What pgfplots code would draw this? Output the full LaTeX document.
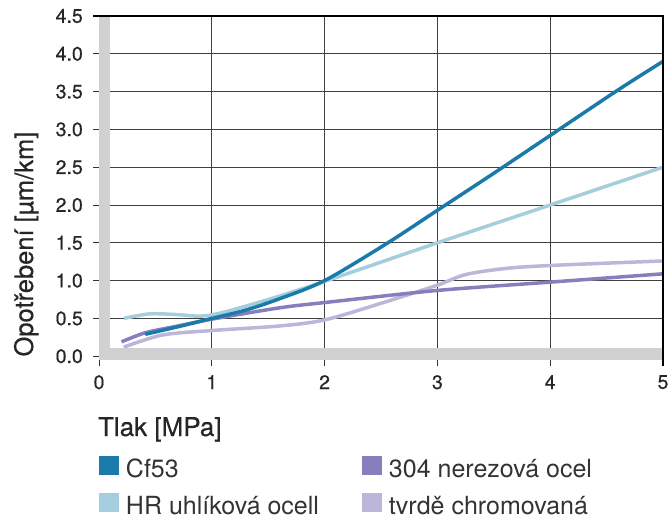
\documentclass[border=0pt]{standalone}
\usepackage{fontspec}
\setmainfont{TeX Gyre Heros}
\newfontfamily\medfont{TeX Gyre Heros}[FakeBold=0.5]
\usepackage{pgfplots}
\pgfplotsset{compat=1.18}
\definecolor{cf}{RGB}{26,122,170}
\definecolor{hr}{RGB}{164,206,222}
\definecolor{ss}{RGB}{134,127,190}
\definecolor{tc}{RGB}{188,182,218}
\definecolor{band}{RGB}{208,209,211}
\begin{document}
\begin{tikzpicture}
\begin{axis}[name=ax, scale only axis, width=564bp, height=344bp,
 xmin=0, xmax=5, ymin=-0.05, ymax=4.5,
 xtick={0,1,2,3,4,5}, ytick={0,0.5,1,1.5,2,2.5,3,3.5,4,4.5},
 grid=major, major grid style={draw=black!75, line width=0.8bp},
 axis line style={draw=none},
 tick align=outside, major tick length=6bp, tick style={black!80, line width=0.8bp},
 xtick pos=left, ytick pos=left,
 /pgf/number format/assume math mode=true,
 ticklabel style={font=\medfont\fontsize{19.5bp}{22bp}\selectfont, text=black!85},
 xticklabel style={inner sep=0pt, anchor=north, yshift=-9bp},
 yticklabel style={inner sep=0pt, anchor=east, xshift=-10bp, /pgf/number format/.cd, fixed, fixed zerofill, precision=1},
 xlabel={Tlak [MPa]},
 xlabel style={at={(axis description cs:-0.002,-0.221)}, anchor=base west, font=\medfont\fontsize{26bp}{30bp}\selectfont, inner sep=0pt, text=black!85},
 ylabel={Opotřebení [µm/km]},
 ylabel style={at={(axis description cs:-0.117,0.337)}, anchor=base, font=\medfont\fontsize{25.5bp}{30bp}\selectfont, inner sep=0pt, text=black!85},
 legend style={at={(axis description cs:0,-0.279)}, anchor=north west, draw=none, fill=none, inner sep=0pt, outer sep=0pt,
   font=\fontsize{25bp}{28bp}\selectfont, text=black!80, row sep=15bp,
   nodes={inner sep=0pt, outer sep=0pt, text height=19bp, text depth=1bp},
   /tikz/every odd column/.append style={column sep=7bp},
   /tikz/every even column/.append style={column sep=43bp}},
 legend columns=2, legend cell align=left,
 legend image code/.code={\path[#1] (0bp,-6.5bp) rectangle (20bp,12.5bp);},
]
\addlegendimage{fill=cf, draw=none}\addlegendentry{Cf53}
\addlegendimage{fill=ss, draw=none}\addlegendentry{304 nerezová ocel}
\addlegendimage{fill=hr, draw=none}\addlegendentry{HR uhlíková ocell}
\addlegendimage{fill=tc, draw=none}\addlegendentry{tvrdě chromovaná}

\fill[band] (axis cs:0,-0.05) rectangle (axis cs:5,0.105);
\fill[band] (axis cs:0,-0.05) rectangle (axis cs:0.1,4.5);

\addplot[tc, line width=3.5bp, smooth, tension=0.5, forget plot] coordinates {
(0.22,0.12) (0.56,0.28) (1.0,0.34) (1.6,0.40) (2.0,0.48) (2.5,0.70) (3.0,0.94) (3.25,1.08) (3.6,1.16) (4.0,1.20) (5.0,1.26)};
\addplot[ss, line width=3.5bp, smooth, tension=0.5, forget plot] coordinates {
(0.2,0.19) (0.41,0.31) (0.7,0.40) (1.0,0.49) (1.6,0.64) (2.0,0.71) (3.0,0.87) (4.0,0.98) (5.0,1.09)};
\addplot[hr, line width=3.5bp, smooth, tension=0.5, forget plot] coordinates {
(0.22,0.50) (0.45,0.56) (0.7,0.55) (0.9,0.53) (1.1,0.58) (1.5,0.75) (2.0,0.99) (3.0,1.50) (4.0,2.0) (5.0,2.5)};
\addplot[cf, line width=3.5bp, smooth, tension=0.5, forget plot] coordinates {
(0.41,0.29) (0.7,0.39) (1.0,0.50) (1.3,0.61) (1.6,0.76) (2.0,1.0) (2.55,1.49) (3.0,1.93) (3.5,2.42) (4.0,2.92) (4.6,3.52) (5.0,3.90)};
\end{axis}
\draw[line width=2.4bp, black] ([xshift=-6bp]ax.north west) -- (ax.north east) -- ([yshift=-6bp]ax.south east);
\pgfresetboundingbox
\path ([shift={(-99bp,-160bp)}]ax.south west) rectangle ++(668bp,520bp);
\end{tikzpicture}
\end{document}
